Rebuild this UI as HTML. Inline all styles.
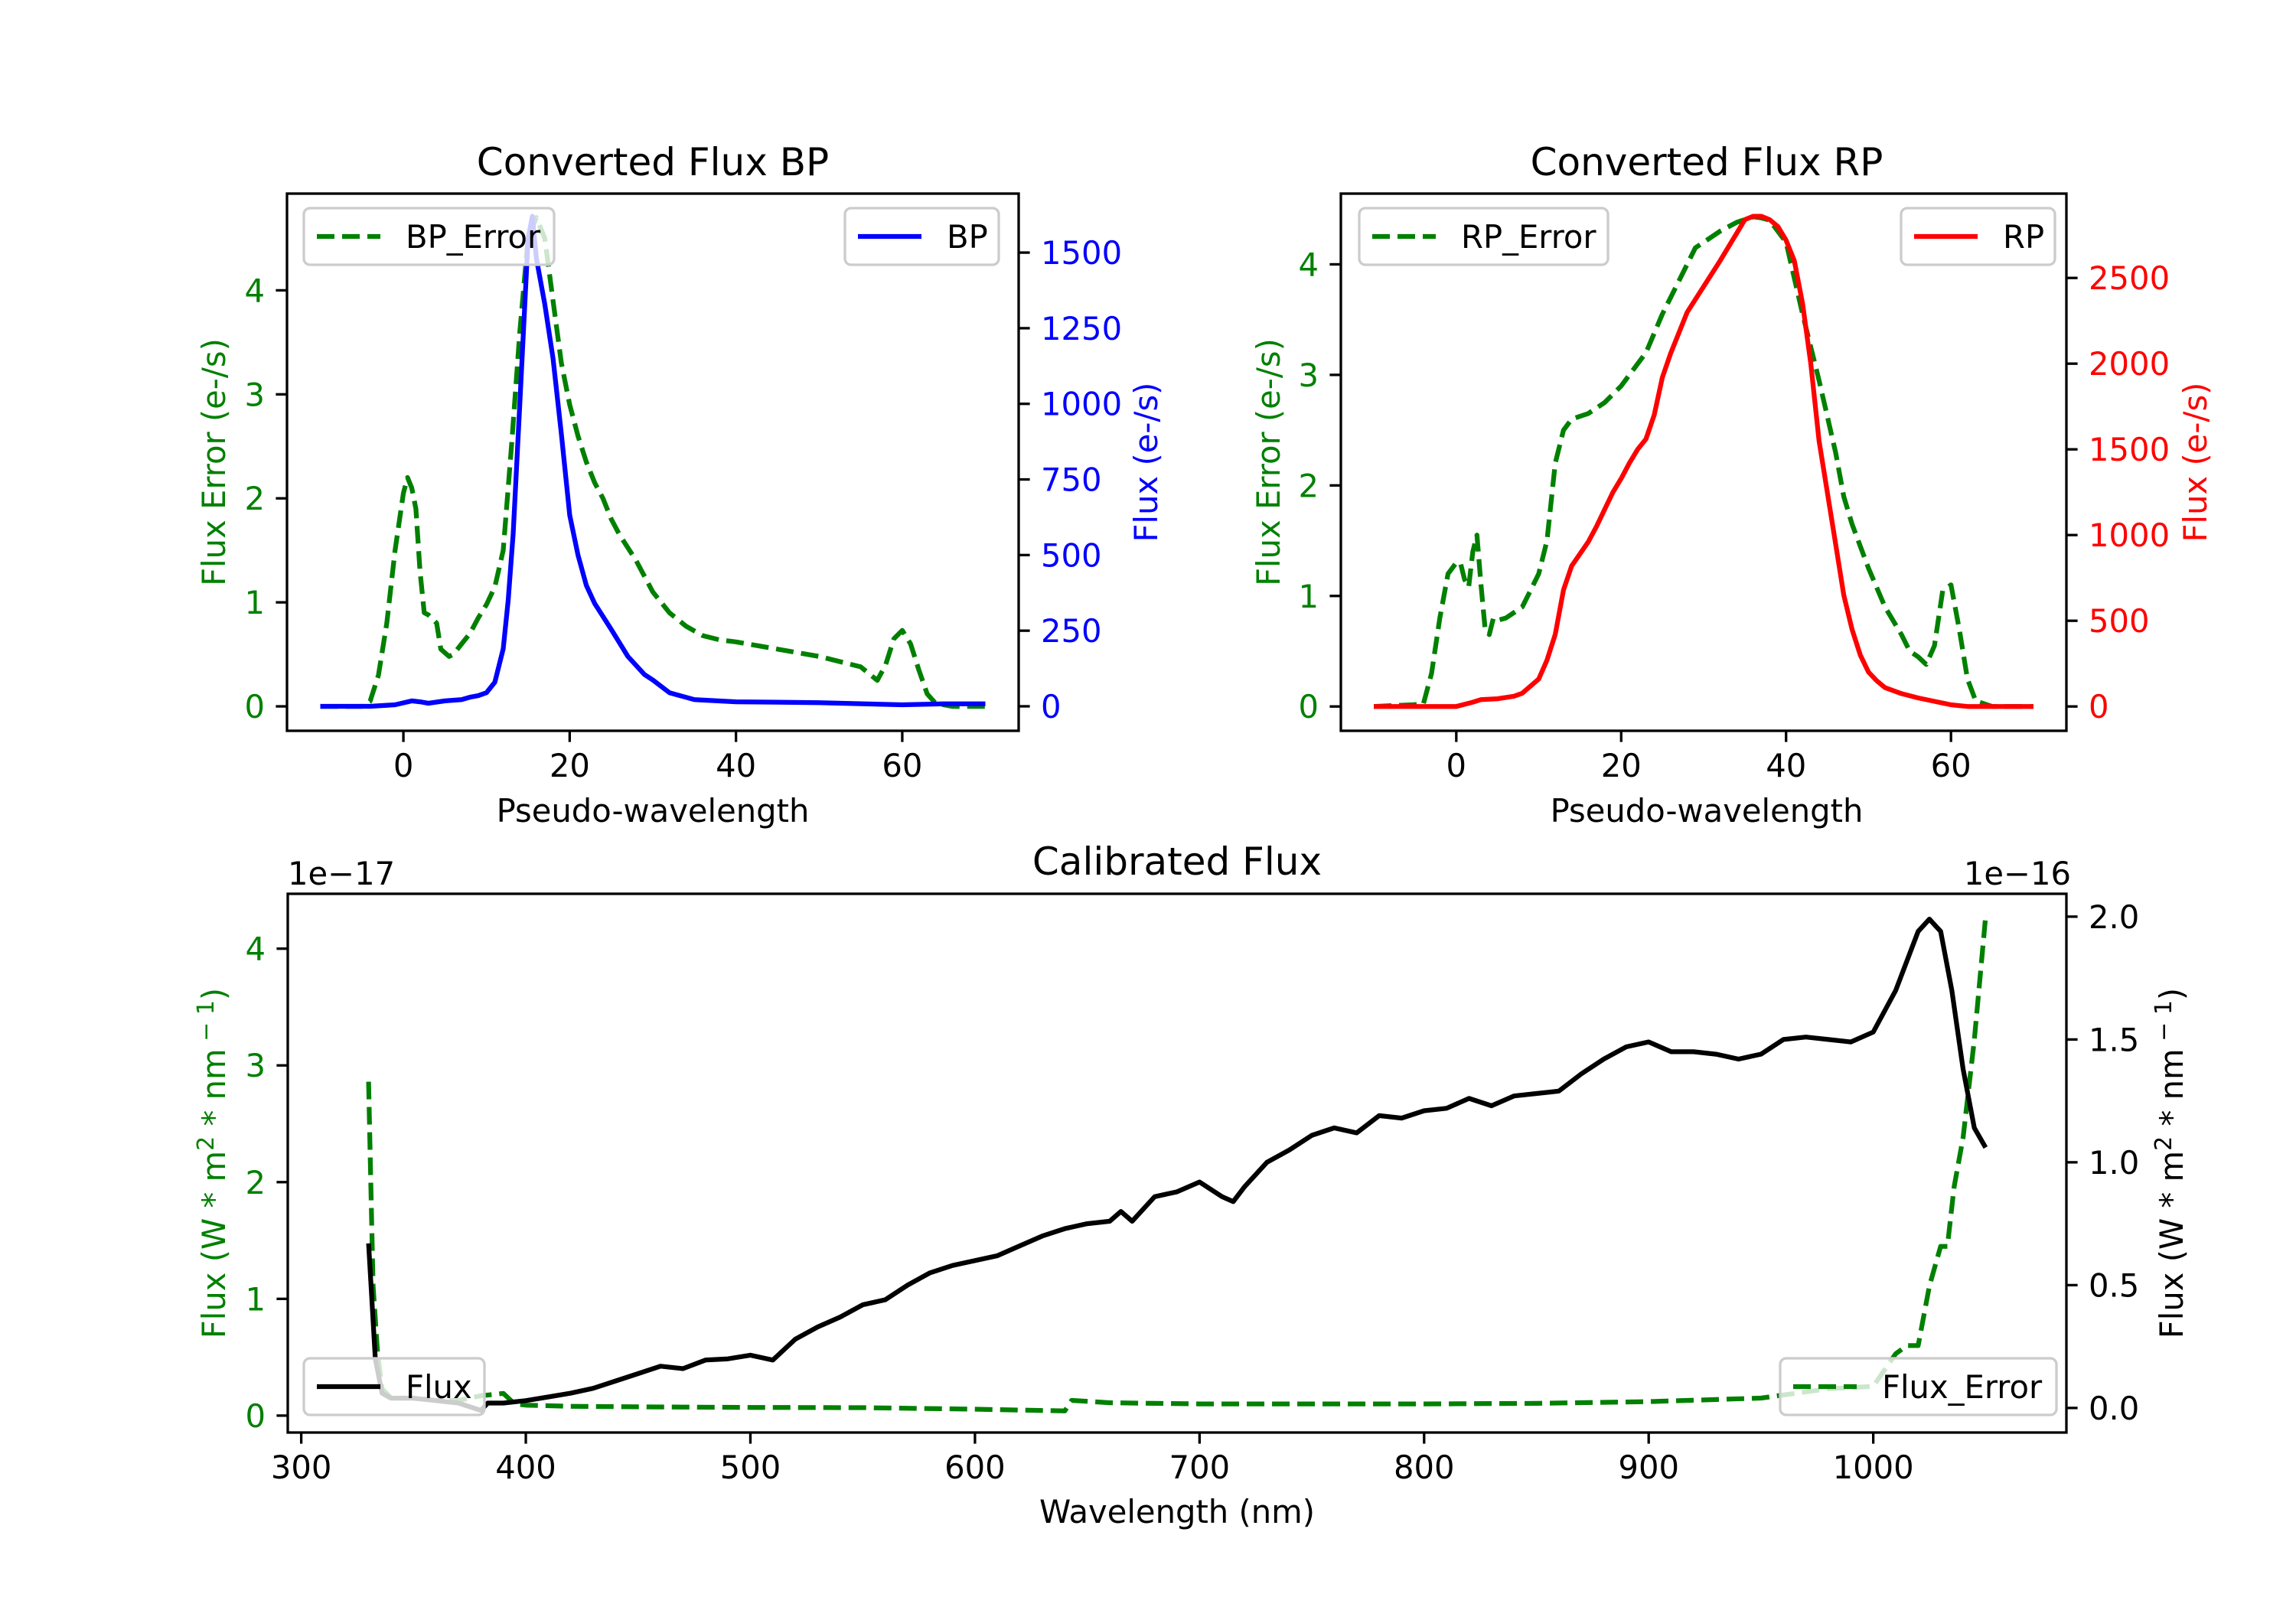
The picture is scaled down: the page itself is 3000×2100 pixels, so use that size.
<!DOCTYPE html>
<html><head><meta charset="utf-8"><style>
html,body{margin:0;padding:0;background:#fff;}
svg{display:block;font-family:"DejaVu Sans","Liberation Sans",sans-serif;}
</style></head><body>
<svg id="fig" xmlns="http://www.w3.org/2000/svg" width="3000" height="2100" viewBox="0 0 3000 2100">
<rect width="3000" height="2100" fill="#fff"/>
</svg>
<script>
// ---- data ----
const bpX = [-10,-4,-1,1,2,3,5,7,8,9,10,11,12,12.6,13.2,14,15,15.5,16,17,18,19,20,21,22,23,25,27,29,30,32,35,40,50,60,65,70];
const bpFlux = [0,0,5,18,15,10,18,22,30,35,45,80,190,350,570,1000,1545,1620,1480,1330,1150,900,632,500,400,340,254,165,105,87,45,22,15,12,5,8,8];
const bpErrX = [-10,-5,-4,-3,-2,-1,0,0.5,1,1.5,2,2.5,3,4,4.5,5.5,6,7,8,9,10,11,12,13,14,15,16,17,18,19,20,21,22,23,24,25,26,28,30,32,34,36,38,40,45,50,55,57,58,59,60,61,62,63,64,66,70];
const bpErr = [0,0,0.05,0.3,0.8,1.5,2.05,2.2,2.1,1.9,1.3,0.9,0.88,0.8,0.55,0.48,0.5,0.6,0.7,0.85,0.98,1.15,1.5,2.5,3.6,4.5,4.7,4.5,3.9,3.3,2.9,2.6,2.35,2.15,2.0,1.8,1.65,1.4,1.1,0.9,0.77,0.68,0.64,0.62,0.55,0.48,0.38,0.25,0.4,0.65,0.73,0.6,0.35,0.12,0.03,0,0];
const rpX = [-10,0,2,3,5,7,8,10,11,12,13,14,16,17,18,19,20,21,22,23,24,25,26,27,28,30,32,34,35,36,37,38,39,40,41,42,43,44,45,46,47,48,49,50,51,52,54,56,58,60,62,70];
const rpFlux = [0,0,25,40,45,60,77,160,270,420,680,820,960,1050,1150,1250,1330,1420,1500,1560,1700,1920,2060,2180,2300,2450,2600,2760,2840,2860,2860,2840,2800,2720,2600,2350,2000,1550,1250,950,650,450,300,200,150,110,75,50,30,10,0,0];
const rpErrX = [-10,-4,-3,-2,-1,0,0.5,1,1.5,2,2.5,3,3.5,4,4.5,5,6,8,9,10,11,12,13,14,16,18,20,22,23,25,27,29,30,32,34,36,37,38,40,42,44,46,47,48,50,52,54,55,56,57,58,59,60,61,62,63,65,70];
const rpErr = [0,0.02,0.3,0.8,1.2,1.3,1.3,1.15,1.08,1.4,1.55,1.1,0.7,0.65,0.8,0.78,0.8,0.9,1.05,1.2,1.5,2.2,2.5,2.6,2.65,2.75,2.9,3.1,3.2,3.55,3.85,4.15,4.2,4.3,4.38,4.43,4.42,4.4,4.2,3.55,2.95,2.3,1.9,1.65,1.25,0.9,0.65,0.5,0.45,0.38,0.55,1.05,1.1,0.7,0.25,0.05,0,0];
const calX = [330,333,336,340,350,360,370,380,383,390,400,410,420,430,440,450,460,470,480,490,500,510,520,530,540,550,560,570,580,590,600,610,620,630,640,650,660,665,670,680,690,700,710,715,720,730,740,750,760,770,780,790,800,810,820,830,840,850,860,870,880,890,900,910,920,930,940,950,960,970,980,990,1000,1010,1020,1025,1030,1035,1040,1045,1050];
const calFlux = [0.67,0.2,0.06,0.04,0.04,0.03,0.02,-0.01,0.02,0.02,0.03,0.045,0.06,0.08,0.11,0.14,0.17,0.16,0.195,0.2,0.215,0.195,0.28,0.33,0.37,0.42,0.44,0.5,0.55,0.58,0.6,0.62,0.66,0.7,0.73,0.75,0.76,0.8,0.76,0.86,0.88,0.92,0.86,0.84,0.9,1.0,1.05,1.11,1.14,1.12,1.19,1.18,1.21,1.22,1.26,1.23,1.27,1.28,1.29,1.36,1.42,1.47,1.49,1.45,1.45,1.44,1.42,1.44,1.5,1.51,1.5,1.49,1.53,1.7,1.94,1.99,1.94,1.7,1.38,1.14,1.06];
const calErrX = [330,331,332,334,336,340,350,360,370,380,390,395,400,420,450,500,550,600,640,643,660,700,800,850,900,950,980,1000,1010,1015,1020,1025,1030,1033,1036,1040,1045,1050];
const calErr = [2.86,1.96,1.11,0.53,0.23,0.15,0.15,0.13,0.13,0.17,0.19,0.1,0.09,0.08,0.075,0.07,0.068,0.055,0.04,0.13,0.11,0.1,0.1,0.105,0.12,0.15,0.23,0.25,0.53,0.6,0.6,1.11,1.45,1.45,1.96,2.38,3.22,4.27];
const bpXTicks=[0,20,40,60], errTicks=[0,1,2,3,4], bpRTicks=[0,250,500,750,1000,1250,1500];
const rpRTicks=[0,500,1000,1500,2000,2500];
const calXTicks=[300,400,500,600,700,800,900,1000], calRTicks=[0,0.5,1,1.5,2];
const calRLabels=["0.0","0.5","1.0","1.5","2.0"];

const NS="http://www.w3.org/2000/svg";
const svg=document.getElementById('fig');
function mk(tag,attrs,parent){const e=document.createElementNS(NS,tag);for(const k in attrs)e.setAttribute(k,attrs[k]);(parent||svg).appendChild(e);return e;}
function txt(s,attrs,parent){const e=mk('text',attrs,parent);e.textContent=s;return e;}
const GREEN='#008000';
function makeAxes(name,L,R,T,B,xlim,ylimL,ylimR){
  const g=mk('g',{});
  
  
  const sx=v=>L+(v-xlim[0])/(xlim[1]-xlim[0])*(R-L);
  const syL=v=>B-(v-ylimL[0])/(ylimL[1]-ylimL[0])*(B-T);
  const syR=v=>B-(v-ylimR[0])/(ylimR[1]-ylimR[0])*(B-T);
  const cid='clip-'+name;
  const cp=mk('clipPath',{id:cid},g);mk('rect',{x:L,y:T,width:R-L,height:B-T},cp);
  return {g,sx,syL,syR,L,R,T,B,cid};
}
function line(ax,xs,ys,sy,color,dash,name){
  const pts=xs.map((x,i)=>ax.sx(x).toFixed(1)+','+sy(ys[i]).toFixed(1)).join(' ');
  const p=mk('polyline',{points:pts,fill:'none',stroke:color,'stroke-width':6.25,'stroke-linejoin':'round','clip-path':'url(#'+ax.cid+')'},ax.g);
  if(dash)p.setAttribute('stroke-dasharray','23 10');
  
  
}
function frame(ax){
  const r=mk('rect',{x:ax.L,y:ax.T,width:ax.R-ax.L,height:ax.B-ax.T,fill:'none',stroke:'#000','stroke-width':3.3},ax.g);
  
  
}
function xticks(ax,ticks,labels){
  ticks.forEach((t,i)=>{const x=ax.sx(t);
    mk('line',{x1:x,x2:x,y1:ax.B,y2:ax.B+14.6,stroke:'#000','stroke-width':3.3},ax.g);
    const e=txt(labels?labels[i]:String(t),{x:x,y:ax.B+60,'font-size':41.7,'text-anchor':'middle',fill:'#000'},ax.g);
    
    });
}
function yticks(ax,ticks,sy,side,color,labels){
  ticks.forEach((t,i)=>{const y=sy(t);
    const x0=side==='L'?ax.L:ax.R, d=side==='L'?-14.6:14.6;
    mk('line',{x1:x0,x2:x0+d,y1:y,y2:y,stroke:'#000','stroke-width':3.3},ax.g);
    const e=txt(labels?labels[i]:String(t),{x:x0+(side==='L'?-29:29),y:y+15,'font-size':41.7,'text-anchor':side==='L'?'end':'start',fill:color},ax.g);
    
    });
}
function ylabel(ax,x,s,color,name){
  const cy=(ax.T+ax.B)/2;
  const e=txt('',{x:x,y:cy,'font-size':41.7,'text-anchor':'middle',fill:color,transform:'rotate(-90 '+x+' '+cy+')'},ax.g);
  if(typeof s==='string')e.textContent=s;else s(e);
  
  
}
function legend(ax,x,y,w,label,color,dash,name){
  const g=mk('g',{},ax.g);
  
  
  mk('rect',{x:x,y:y,width:w,height:74,rx:8,fill:'#fff','fill-opacity':0.8,stroke:'#ccc','stroke-width':3.3},g);
  const l=mk('line',{x1:x+17,x2:x+100,y1:y+37,y2:y+37,stroke:color,'stroke-width':6.25},g);
  if(dash)l.setAttribute('stroke-dasharray','23 10');
  txt(label,{x:x+133,y:y+52,'font-size':41.7,fill:'#000'},g);
}
function title(x,y,s,name){const e=txt(s,{x:x,y:y,'font-size':50,'text-anchor':'middle',fill:'#000'});
  
  }

// BP
{const ax=makeAxes('bp-axes',375,1331,253,955,[-14,74],[-0.235,4.93],[-81,1695]);
 line(ax,bpErrX,bpErr,ax.syL,GREEN,true,'bp-error-line');
 line(ax,bpX,bpFlux,ax.syR,'#0000ff',false,'bp-flux-line');
 frame(ax);xticks(ax,bpXTicks);yticks(ax,errTicks,ax.syL,'L',GREEN);yticks(ax,bpRTicks,ax.syR,'R','#0000ff');
 ylabel(ax,294,'Flux Error (e-/s)',GREEN,'bp-left-y-title');ylabel(ax,1512,'Flux (e-/s)','#0000ff','bp-right-y-title');
 const xl=txt('Pseudo-wavelength',{x:853,y:1074,'font-size':41.7,'text-anchor':'middle'},ax.g);
 
 
 legend(ax,397,272,327,'BP_Error',GREEN,true,'bp-error-legend');
 legend(ax,1104,272,201,'BP','#0000ff',false,'bp-legend');
 title(853,229,'Converted Flux BP','bp-title');}
// RP
{const ax=makeAxes('rp-axes',1752,2700,253,955,[-14,74],[-0.22,4.64],[-142,2992]);
 line(ax,rpErrX,rpErr,ax.syL,GREEN,true,'rp-error-line');
 line(ax,rpX,rpFlux,ax.syR,'#ff0000',false,'rp-flux-line');
 frame(ax);xticks(ax,bpXTicks);yticks(ax,errTicks,ax.syL,'L',GREEN);yticks(ax,rpRTicks,ax.syR,'R','#ff0000');
 ylabel(ax,1672,'Flux Error (e-/s)',GREEN,'rp-left-y-title');ylabel(ax,2883,'Flux (e-/s)','#ff0000','rp-right-y-title');
 const xl=txt('Pseudo-wavelength',{x:2230,y:1074,'font-size':41.7,'text-anchor':'middle'},ax.g);
 
 
 legend(ax,1776,272,325,'RP_Error',GREEN,true,'rp-error-legend');
 legend(ax,2484,272,201,'RP','#ff0000',false,'rp-legend');
 title(2230,229,'Converted Flux RP','rp-title');}
// Calibrated
{const ax=makeAxes('cal-axes',376,2700,1168,1872,[294,1086],[-0.145,4.47],[-0.1,2.093]);
 line(ax,calErrX,calErr,ax.syL,GREEN,true,'cal-error-line');
 line(ax,calX,calFlux,ax.syR,'#000',false,'cal-flux-line');
 frame(ax);xticks(ax,calXTicks);yticks(ax,errTicks,ax.syL,'L',GREEN);yticks(ax,calRTicks,ax.syR,'R','#000',calRLabels);
 const sup=(e)=>{e.appendChild(document.createTextNode('Flux (W * m'));
   const a=document.createElementNS(NS,'tspan');a.setAttribute('dy','-15');a.setAttribute('font-size','30');a.textContent='2';e.appendChild(a);
   const b=document.createElementNS(NS,'tspan');b.setAttribute('dy','15');b.textContent=' * nm';e.appendChild(b);
   const c=document.createElementNS(NS,'tspan');c.setAttribute('dy','-15');c.setAttribute('font-size','30');c.textContent=' \u2212 1';e.appendChild(c);
   const d=document.createElementNS(NS,'tspan');d.setAttribute('dy','15');d.textContent=')';e.appendChild(d);};
 ylabel(ax,294,sup,GREEN,'cal-left-y-title');ylabel(ax,2852,sup,'#000','cal-right-y-title');
 const xl=txt('Wavelength (nm)',{x:1538,y:1990,'font-size':41.7,'text-anchor':'middle'},ax.g);
 
 
 const o1=txt('1e\u221217',{x:376,y:1156,'font-size':41.7},ax.g);
 
 
 const o2=txt('1e\u221216',{x:2706,y:1156,'font-size':41.7,'text-anchor':'end'},ax.g);
 
 
 legend(ax,397,1775,236,'Flux','#000',false,'flux-legend');
 legend(ax,2326,1775,361,'Flux_Error',GREEN,true,'flux-error-legend');
 title(1538,1143,'Calibrated Flux','cal-title');}
</script>
</body></html>
